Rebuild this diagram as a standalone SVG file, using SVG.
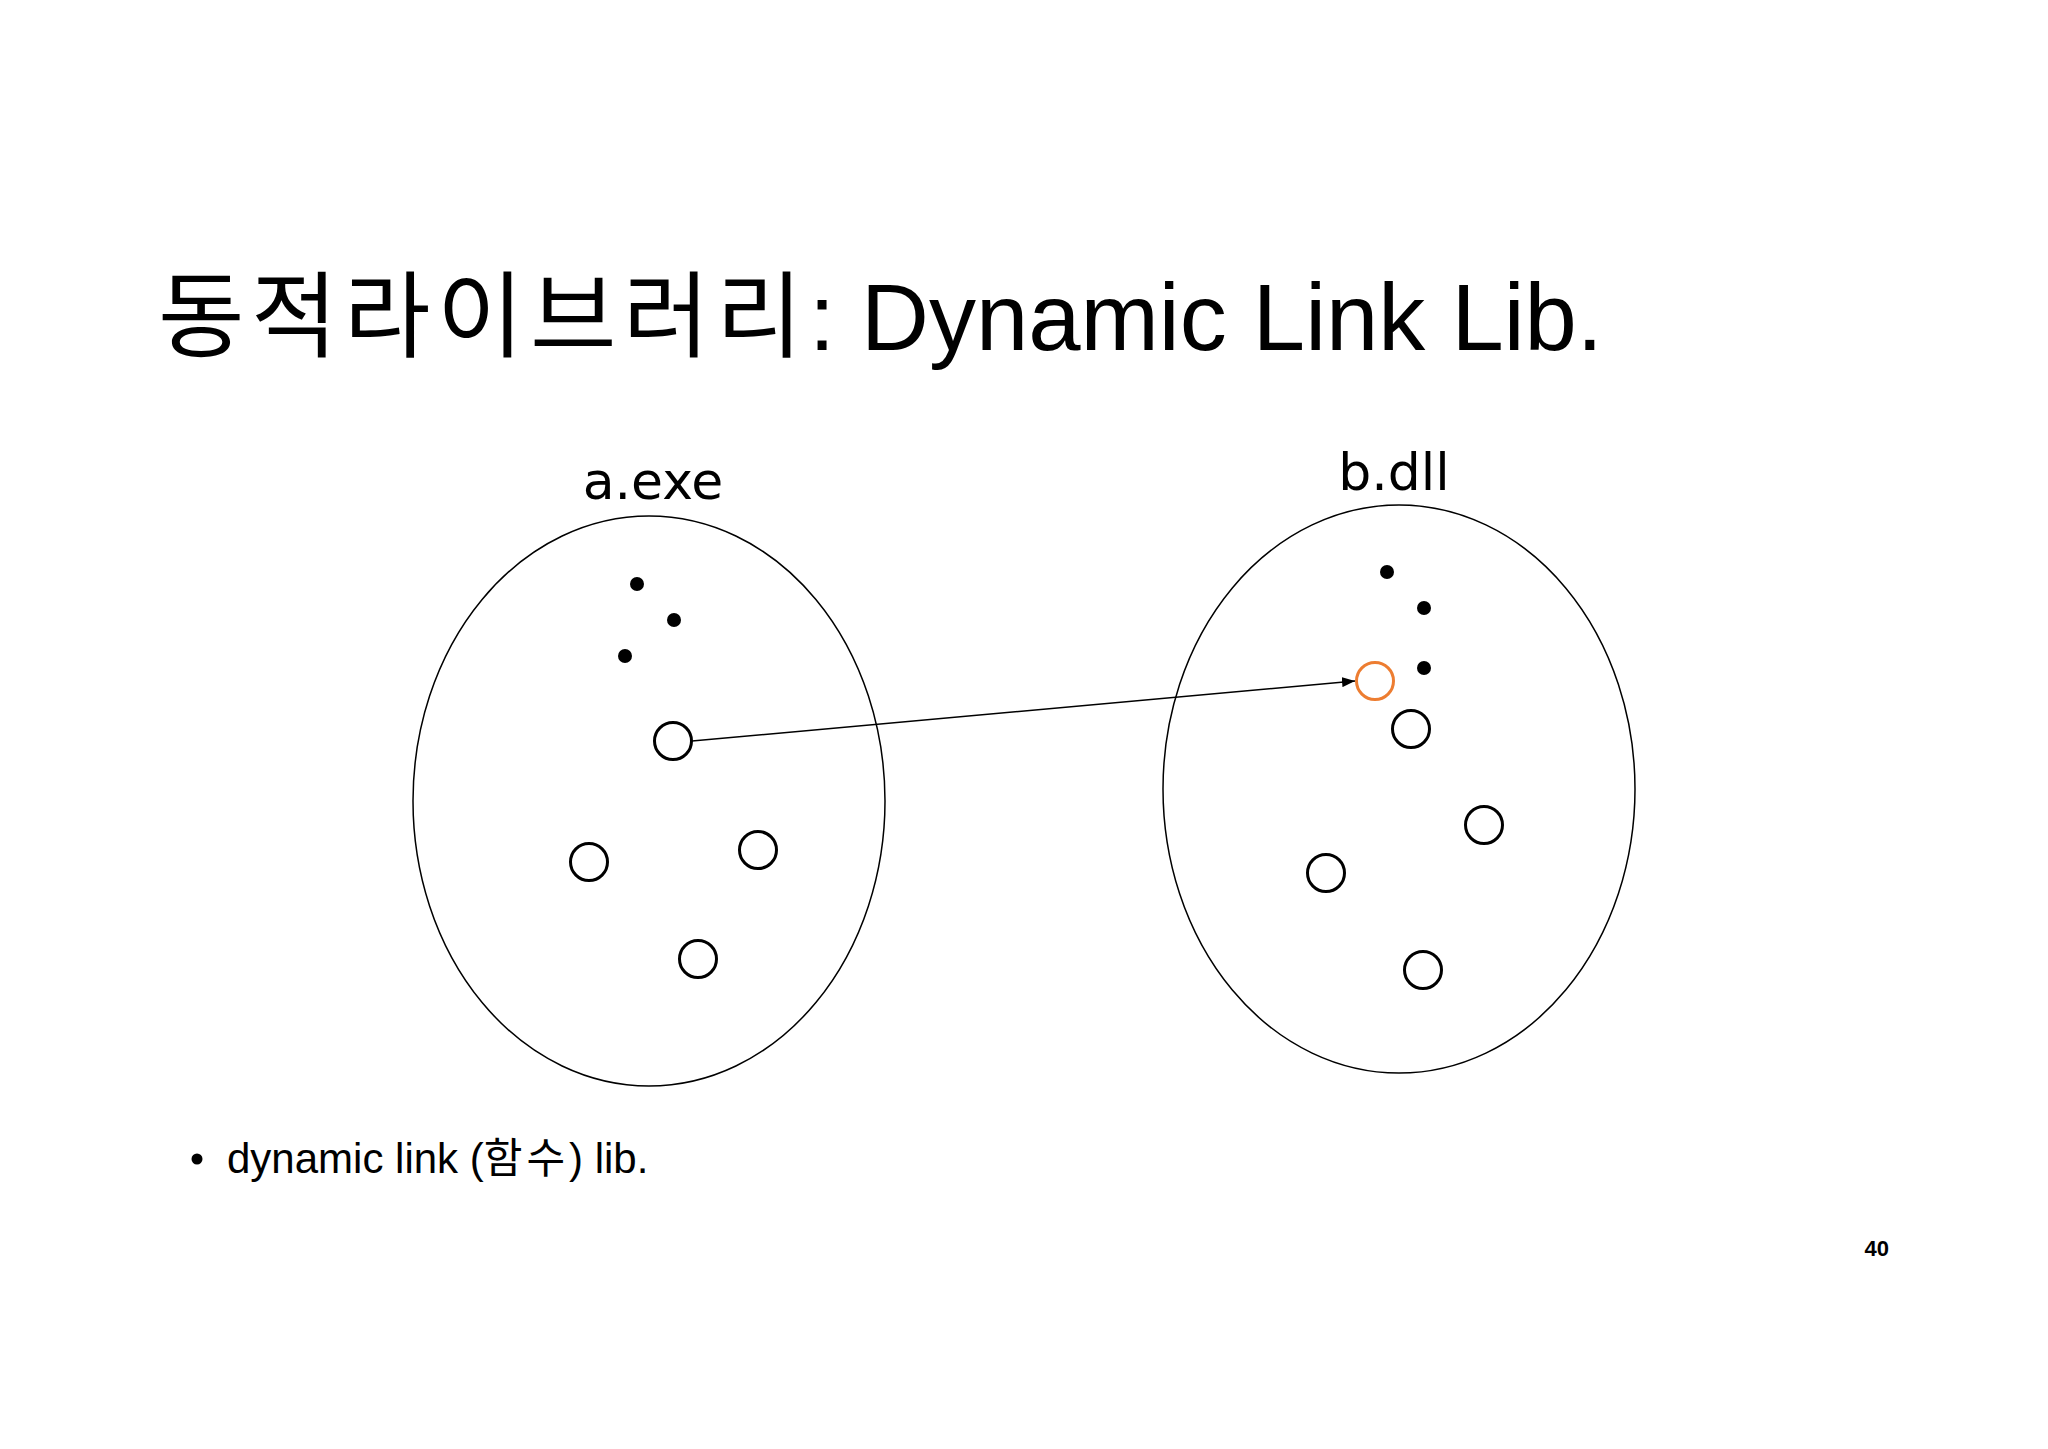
<svg xmlns="http://www.w3.org/2000/svg" width="2048" height="1449" viewBox="0 0 2048 1449">
<style>
.t{font-family:"Liberation Sans","Noto Sans CJK KR",sans-serif;fill:#000}
.lbl{font-family:"DejaVu Sans",sans-serif;font-size:52px;fill:#000;text-anchor:middle}
.big{fill:none;stroke:#000;stroke-width:1.5}
.sm{fill:none;stroke:#000;stroke-width:3}
.dot{fill:#000}
</style>
<defs>
<marker id="ah" markerWidth="13" markerHeight="10" refX="13" refY="5" orient="auto" markerUnits="userSpaceOnUse">
<path d="M0,0 L13,5 L0,10 Z" fill="#000"/>
</marker>
</defs>
<rect width="2048" height="1449" fill="#fff"/>
<text class="t" x="158" y="350" font-size="94"><tspan letter-spacing="6.5">동적라이브러리</tspan>: Dynamic Link Lib.</text>
<g id="a_exe">
<text class="lbl" x="653" y="499">a.exe</text>
<ellipse class="big" cx="649" cy="801" rx="236" ry="285"/>
<circle class="dot" cx="637" cy="584" r="7"/>
<circle class="dot" cx="674" cy="620" r="7"/>
<circle class="dot" cx="625" cy="656" r="7"/>
<circle id="a_src" class="sm" cx="673" cy="741" r="18.5"/>
<circle class="sm" cx="589" cy="862" r="18.5"/>
<circle class="sm" cx="758" cy="850" r="18.5"/>
<circle class="sm" cx="698" cy="959" r="18.5"/>
</g>
<g id="b_dll">
<text class="lbl" x="1394" y="490">b.dll</text>
<ellipse class="big" cx="1399" cy="789" rx="236" ry="284"/>
<circle class="dot" cx="1387" cy="572" r="7"/>
<circle class="dot" cx="1424" cy="608" r="7"/>
<circle class="dot" cx="1424" cy="668" r="7"/>
<circle id="b_target" cx="1375" cy="681" r="18.5" fill="none" stroke="#ED7D31" stroke-width="3"/>
<circle class="sm" cx="1411" cy="729" r="18.5"/>
<circle class="sm" cx="1484" cy="825" r="18.5"/>
<circle class="sm" cx="1326" cy="873" r="18.5"/>
<circle class="sm" cx="1423" cy="970" r="18.5"/>
</g>
<g id="connectors">
<line x1="692" y1="741" x2="1355" y2="681" stroke="#000" stroke-width="1.5" marker-end="url(#ah)"/>
</g>
<g id="notes">
<circle class="dot" cx="197" cy="1159" r="5.5"/>
<text class="t" x="227" y="1173" font-size="42">dynamic link (<tspan letter-spacing="4">함수</tspan>) lib.</text>
<text class="t" x="1889" y="1256" font-size="22" font-weight="bold" text-anchor="end">40</text>
</g>
</svg>
